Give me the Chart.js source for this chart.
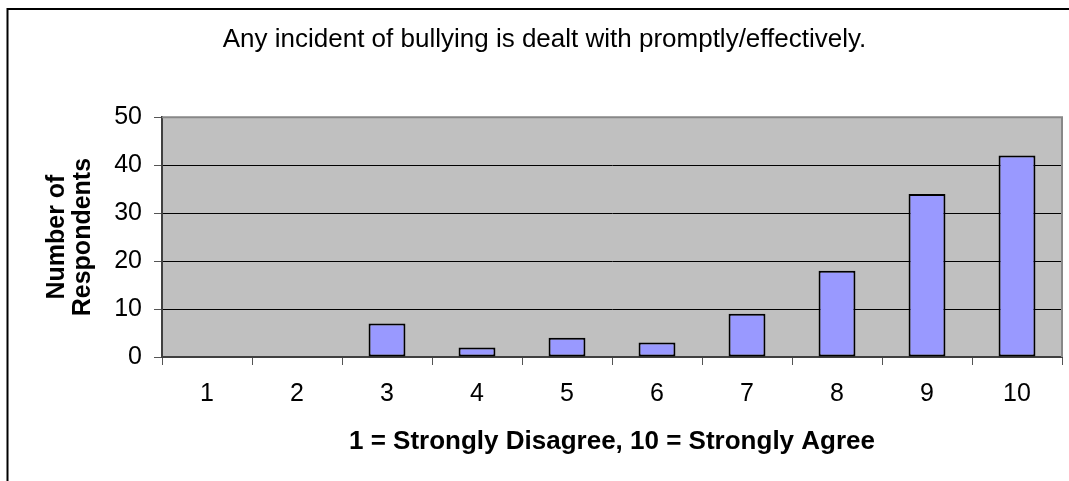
<!DOCTYPE html>
<html lang="en">
<head>
    <meta charset="UTF-8">
    <title>Bullying incidents chart</title>

    <!-- Chart.js CDN -->
    <script src="https://cdn.jsdelivr.net/npm/chart.js"></script>

    <style>
        body {
            margin: 0;
            background: #ffffff;
        }
        #wrap {
            width: 1069px;
            height: 481px;
        }
    </style>
</head>
<body>

<div id="wrap">
    <canvas id="bullyChart" width="1069" height="481"></canvas>
</div>

<script>
    // chart data
    const categories = ['1', '2', '3', '4', '5', '6', '7', '8', '9', '10'];
    const respondents = [0, 0, 7, 2, 4, 3, 9, 18, 34, 42];
    const yTicks = [0, 10, 20, 30, 40, 50];

    const chartTitle = 'Any incident of bullying is dealt with promptly/effectively.';
    const xTitle = '1 = Strongly Disagree, 10 = Strongly Agree';
    const yTitle = ['Number of', 'Respondents'];

    Chart.defaults.font.family = "'Liberation Sans', Arial, sans-serif";
    Chart.defaults.color = '#000000';

    // grey plot area + outer frame
    const plotBox = {
        id: 'plotBox',
        beforeDraw(chart) {
            const ctx = chart.ctx;
            const a = chart.chartArea;
            ctx.save();
            ctx.fillStyle = '#ffffff';
            ctx.fillRect(0, 0, chart.width, chart.height);
            ctx.fillStyle = '#c0c0c0';
            ctx.fillRect(a.left, a.top, a.right - a.left, a.bottom - a.top);
            // outer frame (only top and left edges show)
            ctx.strokeStyle = '#000000';
            ctx.lineWidth = 2;
            ctx.beginPath();
            ctx.moveTo(7.5, chart.height);
            ctx.lineTo(7.5, 9);
            ctx.lineTo(chart.width, 9);
            ctx.stroke();
            ctx.restore();
        },
        afterDatasetsDraw(chart) {
            const ctx = chart.ctx;
            const a = chart.chartArea;
            ctx.save();
            ctx.strokeStyle = '#888888';
            ctx.lineWidth = 2;
            ctx.beginPath();
            ctx.moveTo(a.left, a.top);
            ctx.lineTo(a.right, a.top);
            ctx.lineTo(a.right, a.bottom);
            ctx.stroke();
            ctx.restore();
        }
    };

    new Chart(document.getElementById('bullyChart'), {
        type: 'bar',
        data: {
            labels: categories,
            datasets: [{
                label: 'Respondents',
                data: respondents,
                backgroundColor: '#9999ff',
                borderColor: '#000000',
                borderWidth: 2,
                borderSkipped: false,
                barPercentage: 0.41,
                categoryPercentage: 1.0
            }]
        },
        options: {
            responsive: false,
            devicePixelRatio: 1,
            animation: false,
            layout: {
                padding: { left: 27, right: 7, top: 0, bottom: 0 }
            },
            plugins: {
                legend: { display: false },
                tooltip: { enabled: false },
                title: {
                    display: true,
                    text: chartTitle,
                    color: '#000000',
                    font: { size: 26, weight: 'normal' },
                    padding: { top: 24, bottom: 62 }
                }
            },
            scales: {
                x: {
                    afterFit(scale) { scale.height = 124; },
                    grid: {
                        offset: true,
                        drawOnChartArea: false,
                        drawTicks: true,
                        tickLength: 8,
                        tickColor: '#555555'
                    },
                    border: { color: '#404040', width: 2 },
                    ticks: {
                        color: '#000000',
                        font: { size: 25 },
                        padding: 14
                    },
                    title: {
                        display: true,
                        text: xTitle,
                        color: '#000000',
                        font: { size: 26, weight: 'bold' },
                        padding: { top: 0, bottom: 24 }
                    }
                },
                y: {
                    min: yTicks[0],
                    max: yTicks[yTicks.length - 1],
                    afterFit(scale) { scale.width = 135; },
                    grid: {
                        // top line is the plot border, bottom one is the x axis
                        color: ctx => (ctx.tick && (ctx.tick.value === yTicks[0] || ctx.tick.value === yTicks[yTicks.length - 1])) ? 'rgba(0,0,0,0)' : '#000000',
                        lineWidth: 1,
                        tickLength: 8,
                        tickColor: '#555555'
                    },
                    border: { color: '#404040', width: 2 },
                    ticks: {
                        stepSize: yTicks[1] - yTicks[0],
                        color: '#000000',
                        font: { size: 25 },
                        padding: 12
                    },
                    title: {
                        display: true,
                        text: yTitle,
                        color: '#000000',
                        font: { size: 25, weight: 'bold', lineHeight: 1.04 },
                        padding: { top: 17, bottom: 0 }
                    }
                }
            }
        },
        plugins: [plotBox]
    });
</script>

</body>
</html>
